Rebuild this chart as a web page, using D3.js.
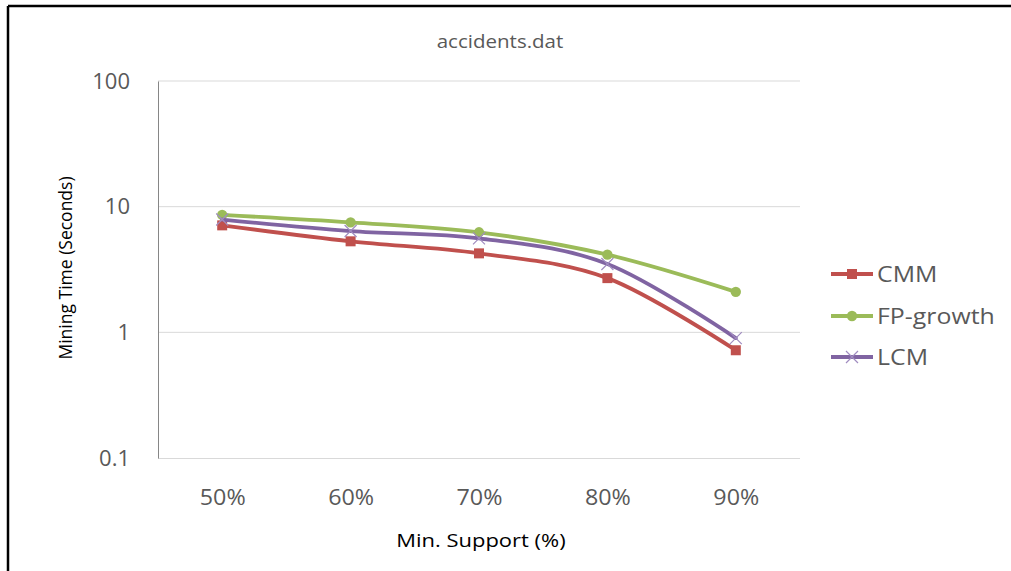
<!DOCTYPE html>
<html>
<head>
<meta charset="utf-8">
<script src="https://cdn.jsdelivr.net/npm/d3@7"></script>
<style>
  html, body { margin: 0; padding: 0; background: #fff; }
  svg { display: block; }
</style>
</head>
<body>
<svg id="chart" width="1011" height="571"></svg>
<script>
// Mining time per algorithm on accidents.dat, by minimum support
const supports = ["50%", "60%", "70%", "80%", "90%"];
const cmm      = [7.1, 5.3, 4.25, 2.7, 0.72];
const fpGrowth = [8.6, 7.5, 6.25, 4.15, 2.1];
const lcm      = [7.9, 6.4, 5.6, 3.5, 0.9];
const yTicks   = [0.1, 1, 10, 100];
const seriesNames = ["CMM", "FP-growth", "LCM"];

const series = [
  { name: seriesNames[0], values: cmm,      color: "#C0504D", marker: "square" },
  { name: seriesNames[1], values: fpGrowth, color: "#9BBB59", marker: "circle" },
  { name: seriesNames[2], values: lcm,      color: "#8064A2", marker: "cross" }
];

const svg = d3.select("#chart");
const font = "'Open Sans', 'Noto Sans', sans-serif";

const plot = { left: 158, right: 800, top: 81, bottom: 458 };

const x = d3.scalePoint().domain(supports).range([plot.left, plot.right]).padding(0.5);
const y = d3.scaleLog().domain([0.1, 100]).range([plot.bottom, plot.top]);

// horizontally widened text, anchored at (px, py)
function wideText(parent, px, py, str, size, sx, color, anchor) {
  return parent.append("text")
    .attr("transform", `translate(${px},${py}) scale(${sx},1)`)
    .attr("text-anchor", anchor || "middle")
    .attr("font-family", font).attr("font-size", size).attr("fill", color)
    .text(str);
}

// outer frame (top and left edges)
svg.append("line").attr("x1", 8).attr("x2", 1011).attr("y1", 6).attr("y2", 6)
  .attr("stroke", "#000").attr("stroke-width", 2.5);
svg.append("line").attr("x1", 8).attr("x2", 8).attr("y1", 6).attr("y2", 571)
  .attr("stroke", "#000").attr("stroke-width", 2.5);

// title
wideText(svg, 500, 48, "accidents.dat", 19, 1.08, "#595959");

// horizontal gridlines
svg.append("g").selectAll("line").data(yTicks.slice(1)).join("line")
  .attr("x1", plot.left).attr("x2", plot.right)
  .attr("y1", d => y(d)).attr("y2", d => y(d))
  .attr("stroke", "#d9d9d9").attr("stroke-width", 1);

// category axis
const xAxis = svg.append("g").attr("transform", `translate(0,${plot.bottom})`)
  .call(d3.axisBottom(x).tickSize(0).tickPadding(30));
xAxis.select(".domain").attr("d", `M${plot.left},0.5H${plot.right}`).attr("stroke", "#d9d9d9");
xAxis.selectAll(".tick text").remove();
xAxis.selectAll(".tick").each(function(d) {
  wideText(d3.select(this), 0, 47, d, 22, 1.06, "#595959");
});

// value axis
const yAxis = svg.append("g").attr("transform", `translate(${plot.left},0)`)
  .call(d3.axisLeft(y).tickValues(yTicks).tickFormat(d3.format("~g")).tickSize(0).tickPadding(28));
yAxis.select(".domain").attr("stroke", "#868686");
yAxis.selectAll("text").attr("font-family", font).attr("font-size", 22).attr("fill", "#595959");

// axis titles
wideText(svg, 481, 547, "Min. Support (%)", 18, 1.22, "#000");
svg.append("text").attr("transform", "translate(72,268) rotate(-90)").attr("text-anchor", "middle")
  .attr("font-family", font).attr("font-size", 17.5).attr("fill", "#000")
  .text("Mining Time (Seconds)");

// smoothed series lines
const line = d3.line()
  .x((d, i) => x(supports[i]))
  .y(d => y(d))
  .curve(d3.curveCardinal.tension(0));

function drawMarker(g, type, color, cx, cy) {
  if (type === "square") {
    g.append("rect").attr("x", cx - 5).attr("y", cy - 5).attr("width", 10).attr("height", 10)
      .attr("fill", color);
  } else if (type === "circle") {
    g.append("circle").attr("cx", cx).attr("cy", cy).attr("r", 5.2).attr("fill", color);
  } else {
    g.append("path")
      .attr("d", `M${cx - 6},${cy - 6}L${cx + 6},${cy + 6}M${cx - 6},${cy + 6}L${cx + 6},${cy - 6}`)
      .attr("stroke", "#A08CC0").attr("stroke-width", 1.2).attr("fill", "none");
  }
}

series.forEach(s => {
  const g = svg.append("g");
  g.append("path").attr("d", line(s.values)).attr("fill", "none")
    .attr("stroke", s.color).attr("stroke-width", 3.8).attr("stroke-linecap", "round");
  s.values.forEach((v, i) => drawMarker(g, s.marker, s.color, x(supports[i]), y(v)));
});

// legend
const legendY = [274, 316, 357];
series.forEach((s, i) => {
  const g = svg.append("g");
  g.append("line").attr("x1", 831).attr("x2", 873).attr("y1", legendY[i]).attr("y2", legendY[i])
    .attr("stroke", s.color).attr("stroke-width", 3.8);
  drawMarker(g, s.marker, s.color, 852, legendY[i]);
  wideText(g, 877, legendY[i] + 8, s.name, 22, 1.13, "#595959", "start");
});
</script>
</body>
</html>
